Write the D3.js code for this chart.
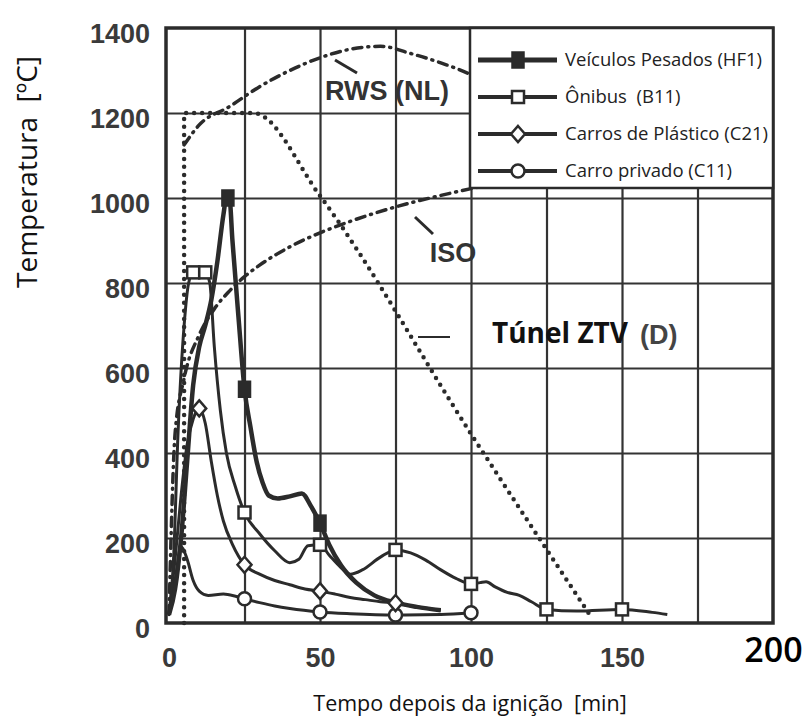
<!DOCTYPE html>
<html>
<head>
<meta charset="utf-8">
<script src="https://cdn.jsdelivr.net/npm/d3@7"></script>
<style>
  body { margin: 0; background: #fff; }
  svg { display: block; }
  text { white-space: pre; }
</style>
</head>
<body>
<div id="chart"></div>
<script>
// ── Data ───────────────────────────────────────────────────────────────────
const xTicks = [0, 50, 100, 150, 200];
const yTicks = [0, 200, 400, 600, 800, 1000, 1200, 1400];
const gridTimes = [25, 50, 75, 100, 125, 150, 175];
const gridTemps = [200, 400, 600, 800, 1000, 1200];

// design fire curves [min, °C]
const rws = [[5,1125],[10,1172],[20,1215],[30,1262],[40,1300],[50,1330],[60,1350],[70,1357],[80,1340],[90,1318],[100,1290],[110,1250],[120,1200]];
const iso = [[0,20],[2,445],[5,576],[10,678],[15,739],[20,781],[25,815],[30,842],[40,885],[50,918],[60,945],[75,979],[90,1006],[100,1022],[120,1049]];
const ztv = [[5,0],[5,1200],[28,1200],[50,1005],[100,445],[140,12]];

// measured vehicle fires [min, °C]
const hf1 = [[0,20],[2,80],[4,200],[6,380],[8,560],[10,650],[12,700],[14,760],[16,850],[18,960],[19,1000],[20,1000],[21,900],[23,720],[25,550],[27,460],[29,380],[31,330],[33,300],[36,293],[40,298],[44,305],[47,275],[50,235],[53,185],[57,135],[62,95],[68,65],[75,48],[82,38],[90,30]];
const b11 = [[0,20],[1.5,150],[3,450],[5,700],[6.5,800],[8,825],[10,815],[12,825],[13.5,800],[15,650],[17,500],[19,400],[22,320],[25,260],[30,210],[35,170],[40,142],[43,150],[46,182],[50,184],[53,160],[57,130],[60,115],[64,125],[70,155],[75,172],[80,165],[85,148],[90,125],[95,105],[100,92],[103,95],[105,97],[108,85],[112,72],[116,65],[120,50],[125,32],[135,28],[150,32],[160,25],[165,20]];
const c21 = [[0,20],[2,150],[4,300],[6,420],[8,480],[10,505],[12,470],[14,380],[16,300],[18,240],[21,185],[25,137],[30,115],[35,100],[40,90],[45,80],[50,75],[55,68],[60,60],[65,55],[70,50],[75,47],[80,40],[85,35],[90,30]];
const c11 = [[0,20],[2,100],[4,180],[6,150],[8,100],[10,75],[13,65],[18,68],[22,63],[25,57],[30,48],[35,40],[40,34],[50,26],[60,22],[75,19],[90,20],[100,24]];

// marker positions on the curves [min, °C]
const hf1Marks = [[19.5,1000],[25,550],[50,235]];
const b11Marks = [[8,825],[12,825],[25,260],[50,184],[75,172],[100,92],[125,32],[150,32]];
const c21Marks = [[10,505],[25,137],[50,75],[75,47]];
const c11Marks = [[25,57],[50,26],[75,19],[100,24]];

const legendNames = ['Veículos Pesados (HF1)', 'Ônibus  (B11)', 'Carros de Plástico (C21)', 'Carro privado (C11)'];
const legendSymbols = ['filled', 'square', 'diamond', 'circle'];

// ── Setup ──────────────────────────────────────────────────────────────────
const W = 809, H = 725;
const INK = '#2b2b2b';
const SCAN = "'Liberation Sans', Arial, sans-serif";
const OFFICE = "'Open Sans', 'Noto Sans', sans-serif";

const svg = d3.select('#chart').append('svg').attr('width', W).attr('height', H);
svg.append('rect').attr('width', W).attr('height', H).attr('fill', '#fff');

const x = d3.scaleLinear().domain([-1, 200]).range([166, 773]);
const y = d3.scaleLinear().domain([0, 1400]).range([623, 28]);

// ── Grid ───────────────────────────────────────────────────────────────────
svg.append('g').attr('transform', `translate(0,${y(0)})`)
  .call(d3.axisBottom(x).tickValues(gridTimes).tickSize(-(y(0) - y(1400))).tickFormat(''))
  .call(g => g.select('.domain').remove())
  .call(g => g.selectAll('line').attr('stroke', '#333').attr('stroke-width', 2.2));

svg.append('g').attr('transform', `translate(${x(-1)},0)`)
  .call(d3.axisLeft(y).tickValues(gridTemps).tickSize(-(x(200) - x(-1))).tickFormat(''))
  .call(g => g.select('.domain').remove())
  .call(g => g.selectAll('line').attr('stroke', '#333').attr('stroke-width', 2.2));

// ── Tick labels ────────────────────────────────────────────────────────────
svg.append('g').attr('transform', `translate(${x(-1) - 16},0)`)
  .call(d3.axisLeft(y).tickValues(yTicks).tickFormat(d3.format('d')).tickSize(0).tickPadding(0))
  .call(g => g.select('.domain').remove())
  .call(g => g.selectAll('text')
    .attr('dy', '0.55em')
    .attr('font-family', SCAN).attr('font-weight', 'bold').attr('font-size', 27)
    .attr('fill', '#3a3a3a'));

svg.append('g').attr('transform', `translate(0,${y(0) + 24})`)
  .call(d3.axisBottom(x).tickValues(xTicks).tickFormat(d3.format('d')).tickSize(0).tickPadding(0))
  .call(g => g.select('.domain').remove())
  .call(g => g.selectAll('text')
    .attr('dy', '0.75em')
    .attr('font-family', SCAN).attr('font-weight', 'bold').attr('font-size', 27)
    .attr('fill', '#3a3a3a'))
  .call(g => g.selectAll('.tick').filter(d => d === 200).select('text')
    .attr('font-family', OFFICE).attr('font-weight', 600).attr('font-size', 34)
    .attr('fill', '#000').attr('dy', '0.45em'));

// ── Curves ─────────────────────────────────────────────────────────────────
const smooth = d3.line().x(d => x(d[0])).y(d => y(d[1])).curve(d3.curveMonotoneX);

const curves = svg.append('g').attr('fill', 'none').attr('stroke', INK);

curves.append('path').datum(rws).attr('d', smooth)
  .attr('stroke-width', 3.5).attr('stroke-linecap', 'round').attr('stroke-dasharray', '9 6 1 6');
curves.append('path').datum(iso).attr('d', smooth)
  .attr('stroke-width', 3.5).attr('stroke-linecap', 'round').attr('stroke-dasharray', '9 6 1 6');
curves.append('path').datum(ztv).attr('d', smooth)
  .attr('stroke-width', 4.5).attr('stroke-linecap', 'round').attr('stroke-dasharray', '0 8');

curves.append('path').datum(c11).attr('d', smooth).attr('stroke-width', 3);
curves.append('path').datum(c21).attr('d', smooth).attr('stroke-width', 3);
curves.append('path').datum(b11).attr('d', smooth).attr('stroke-width', 3);
curves.append('path').datum(hf1).attr('d', smooth).attr('stroke-width', 4.5);

// ── Markers ────────────────────────────────────────────────────────────────
function drawMarker(g, kind, cx, cy) {
  const s = 6;
  if (kind === 'filled') {
    g.append('rect').attr('x', cx - 6).attr('y', cy - 8).attr('width', 12).attr('height', 16)
      .attr('fill', INK).attr('stroke', INK).attr('stroke-width', 1.5);
  } else if (kind === 'square') {
    g.append('rect').attr('x', cx - s).attr('y', cy - s).attr('width', 2 * s).attr('height', 2 * s)
      .attr('fill', '#fff').attr('stroke', INK).attr('stroke-width', 2.5);
  } else if (kind === 'diamond') {
    g.append('path').attr('d', `M${cx},${cy - 8}L${cx + 7},${cy}L${cx},${cy + 8}L${cx - 7},${cy}Z`)
      .attr('fill', '#fff').attr('stroke', INK).attr('stroke-width', 2.5);
  } else {
    g.append('circle').attr('cx', cx).attr('cy', cy).attr('r', 6.5)
      .attr('fill', '#fff').attr('stroke', INK).attr('stroke-width', 2.5);
  }
}

const marks = svg.append('g');
[[c11Marks, 'circle'], [c21Marks, 'diamond'], [b11Marks, 'square'], [hf1Marks, 'filled']]
  .forEach(([pts, kind]) => pts.forEach(d => drawMarker(marks, kind, x(d[0]), y(d[1]))));

// ── Plot frame ─────────────────────────────────────────────────────────────
svg.append('rect')
  .attr('x', x(-1)).attr('y', y(1400))
  .attr('width', x(200) - x(-1)).attr('height', y(0) - y(1400))
  .attr('fill', 'none').attr('stroke', INK).attr('stroke-width', 3.5);

// ── Curve labels ───────────────────────────────────────────────────────────
const ann = svg.append('g').attr('stroke', INK).attr('stroke-width', 3);
ann.append('line').attr('x1', 335).attr('y1', 60).attr('x2', 357).attr('y2', 73);
ann.append('line').attr('x1', 415).attr('y1', 217).attr('x2', 433).attr('y2', 234);
ann.append('line').attr('x1', 418).attr('y1', 337).attr('x2', 450).attr('y2', 337).attr('stroke-width', 2);

svg.append('text').attr('x', 387).attr('y', 100).attr('text-anchor', 'middle')
  .attr('font-family', SCAN).attr('font-weight', 'bold').attr('font-size', 27)
  .attr('fill', '#333').text('RWS (NL)');
svg.append('text').attr('x', 453).attr('y', 262).attr('text-anchor', 'middle')
  .attr('font-family', SCAN).attr('font-weight', 'bold').attr('font-size', 27)
  .attr('fill', '#333').text('ISO');
svg.append('text').attr('x', 492).attr('y', 343)
  .attr('font-family', OFFICE).attr('font-weight', 700).attr('font-size', 28)
  .attr('fill', '#111').text('Túnel ZTV');
svg.append('text').attr('x', 640).attr('y', 344)
  .attr('font-family', SCAN).attr('font-weight', 'bold').attr('font-size', 27)
  .attr('fill', '#444').text('(D)');

// ── Legend ─────────────────────────────────────────────────────────────────
const legend = svg.append('g');
legend.append('rect').attr('x', 470).attr('y', y(1400)).attr('width', x(200) - 470).attr('height', 188 - y(1400))
  .attr('fill', '#fff').attr('stroke', INK).attr('stroke-width', 2.5);

legendNames.forEach((name, i) => {
  const ly = 60 + i * 37;
  legend.append('line').attr('x1', 478).attr('x2', 557).attr('y1', ly).attr('y2', ly)
    .attr('stroke', INK).attr('stroke-width', i === 0 ? 5 : 4);
  drawMarker(legend, legendSymbols[i], 518, ly);
  legend.append('text').attr('x', 565).attr('y', ly).attr('dy', '0.35em')
    .attr('font-family', OFFICE).attr('font-size', 18.5).attr('fill', '#222').text(name);
});

// ── Axis titles ────────────────────────────────────────────────────────────
svg.append('text').attr('x', 470).attr('y', 711).attr('text-anchor', 'middle')
  .attr('font-family', OFFICE).attr('font-size', 21.5).attr('fill', '#111')
  .text('Tempo depois da ignição  [min]');
svg.append('text').attr('transform', 'translate(37,172) rotate(-90)').attr('text-anchor', 'middle')
  .attr('font-family', OFFICE).attr('font-size', 28).attr('fill', '#111')
  .text('Temperatura  [ºC]');
</script>
</body>
</html>
